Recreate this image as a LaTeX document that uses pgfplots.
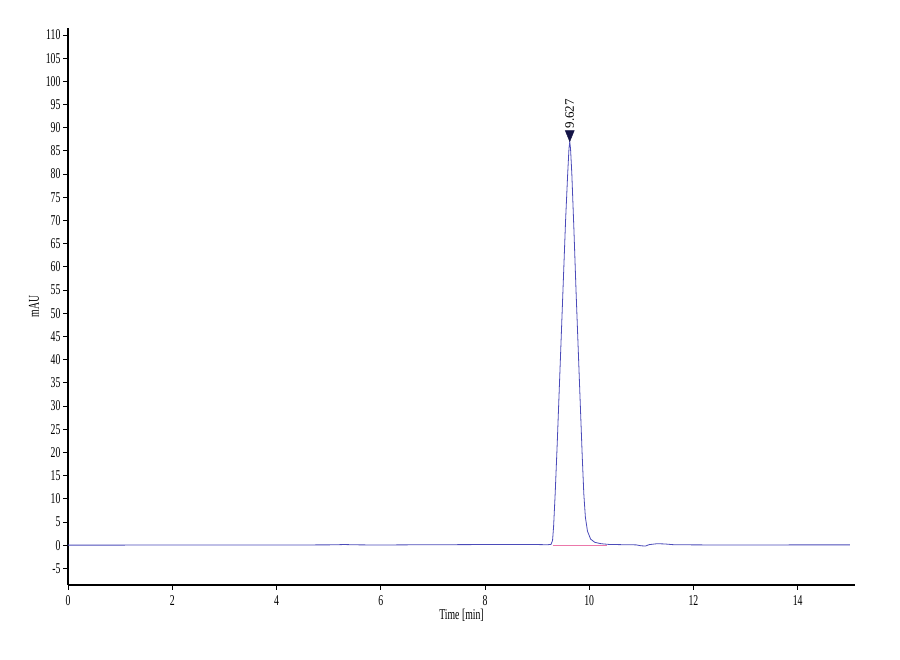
\documentclass[border=0pt]{standalone}
\usepackage{fontspec}
\setmainfont{Liberation Serif}
\newfontfamily\narrowfont[FakeStretch=0.65]{Liberation Serif}
\usepackage{pgfplots}
\pgfplotsset{compat=1.18}
\definecolor{trace}{RGB}{75,75,185}
\definecolor{basecol}{RGB}{235,120,170}
\definecolor{navy}{RGB}{20,20,70}
\pgfdeclareplotmark{dtri}{%
  \pgfpathmoveto{\pgfpoint{-4.5pt}{11pt}}%
  \pgfpathlineto{\pgfpoint{4.5pt}{11pt}}%
  \pgfpathlineto{\pgfpoint{0pt}{0pt}}%
  \pgfpathclose\pgfusepathqfillstroke}
\begin{document}
\begin{tikzpicture}
\path[use as bounding box] (0,0) rectangle (900pt,660pt);
\begin{axis}[
  at={(68pt,75pt)}, anchor=south west,
  scale only axis, width=787pt, height=557pt,
  xmin=0, xmax=15.1, ymin=-8.6, ymax=111.5,
  axis lines=left, axis line style={-, line width=1.2pt, black},
  xtick={0,2,...,14}, ytick={-5,0,...,110},
  tick align=outside, major tick length=5pt,
  tick style={black, line width=0.8pt},
  minor tick num=0,
  /pgf/number format/assume math mode=true,
  ticklabel style={font=\narrowfont\fontsize{15}{15}\selectfont},
  xticklabel style={yshift=-2pt},
  yticklabel style={xshift=1pt},
  xlabel={Time [min]}, ylabel={mAU},
  xlabel style={font=\narrowfont\fontsize{15}{15}\selectfont, yshift=3pt},
  ylabel style={font=\narrowfont\fontsize{15}{15}\selectfont, yshift=0pt},
  clip=false,
]
\addplot[trace, line width=0.8pt] coordinates {
(0,0) (1,0) (2,0.02) (3,0.02) (4,0.03) (5,0.05) (5.3,0.12) (5.6,0.05)
(6,0.03) (7,0.08) (8,0.12) (8.8,0.15) (9.1,0.1) (9.2,0.08)
(9.267,0.15) (9.297,1) (9.317,4) (9.347,11) (9.387,22) (9.427,34)
(9.467,46) (9.507,58) (9.547,70) (9.587,80) (9.612,85.5) (9.627,87)
(9.642,85.5) (9.667,80) (9.707,68) (9.747,55) (9.787,43) (9.827,31)
(9.867,19) (9.897,11) (9.927,6) (9.967,3) (10.027,1.3) (10.107,0.6)
(10.227,0.3) (10.377,0.15) (10.6,0.1) (10.9,0.05) (11.0,-0.15)
(11.08,-0.2) (11.15,0.1) (11.3,0.3) (11.45,0.25) (11.6,0.1)
(12,0.05) (13,0.02) (14,0.05) (15,0.05)
};
\addplot[basecol, line width=0.9pt] coordinates {(9.30,0) (10.35,0)};
\addplot[only marks, mark=dtri, mark options={fill=navy, draw=navy},
  point meta=explicit symbolic, nodes near coords,
  every node near coord/.append style={font=\fontsize{13}{13}\selectfont,
    anchor=west, yshift=12pt, rotate=90, inner sep=1pt, text=black}]
  coordinates {(9.627,87) [9.627]};
\end{axis}
\end{tikzpicture}
\end{document}
